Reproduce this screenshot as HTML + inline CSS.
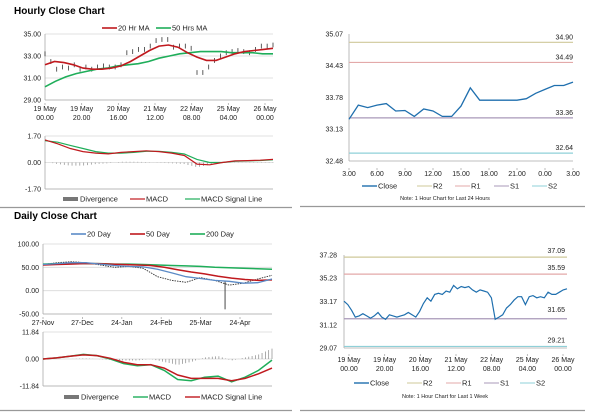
<!DOCTYPE html>
<html><head><meta charset="utf-8"><style>
body{margin:0;background:#fff;width:600px;height:413px;overflow:hidden;font-family:"Liberation Sans",sans-serif}
svg text{font-family:"Liberation Sans",sans-serif}
</style></head><body>
<svg id="s" width="600" height="413" viewBox="0 0 600 413" xmlns="http://www.w3.org/2000/svg">
<text x="14" y="14" font-size="10" font-weight="bold" fill="#000">Hourly Close Chart</text>
<text x="14" y="219" font-size="10" font-weight="bold" fill="#000">Daily Close Chart</text>
<line x1="0" y1="207.5" x2="292" y2="207.5" stroke="#999" stroke-width="1.2"/>
<line x1="300" y1="206.5" x2="585" y2="206.5" stroke="#999" stroke-width="1.2"/>
<line x1="0" y1="410.5" x2="292" y2="410.5" stroke="#999" stroke-width="1.2"/>
<line x1="300" y1="410.5" x2="585" y2="410.5" stroke="#999" stroke-width="1.2"/>
</svg>
<script>
// ===== Data =====
const hPrice=[33.2,32.5,31.8,32.0,31.9,32.2,31.8,32.0,31.8,32.0,32.1,32.0,32.0,32.2,33.3,33.4,33.6,33.6,33.9,34.4,34.5,34.5,33.8,33.9,33.9,33.7,31.5,31.5,32.0,32.6,33.0,33.3,33.4,33.5,33.4,33.3,33.6,33.9,33.9,34.0];
const hMA20=[32.2,32.5,32.4,32.2,31.9,31.8,31.8,31.9,32.1,32.5,33.0,33.5,33.9,34.0,33.8,33.3,32.9,32.6,32.6,32.9,33.2,33.4,33.5,33.6,33.7];
const hMA50=[30.2,30.7,31.1,31.4,31.6,31.8,31.9,32.1,32.2,32.3,32.5,32.8,33.0,33.2,33.3,33.4,33.4,33.4,33.3,33.3,33.3,33.2,33.2];
const hXLabels=[["19 May","00.00"],["19 May","20.00"],["20 May","16.00"],["21 May","12.00"],["22 May","08.00"],["25 May","04.00"],["26 May","00.00"]];
const hYTicks=[35,33,31,29];
const hMacd=[1.45,1.2,0.9,0.7,0.6,0.55,0.65,0.7,0.75,0.7,0.6,0.45,-0.1,-0.15,0.0,0.1,0.12,0.15,0.2];
const hSignal=[1.4,1.3,1.1,0.9,0.7,0.6,0.6,0.65,0.72,0.72,0.65,0.55,0.2,0.0,0.0,0.08,0.1,0.13,0.17];
const rClose=[33.33,33.62,33.57,33.62,33.65,33.50,33.51,33.39,33.54,33.50,33.39,33.39,33.60,33.97,33.72,33.72,33.72,33.72,33.72,33.75,33.86,33.94,34.02,34.02,34.09];
const rXLabels=["3.00","6.00","9.00","12.00","15.00","18.00","21.00","0.00","3.00"];
const rYTicks=[35.07,34.43,33.78,33.13,32.48];
const rLevels=[34.90,34.49,33.36,32.64];
const dPrice=[56,60,62,60,55,50,52,48,30,22,18,28,22,12,16,25,33];
const d20=[56,58,60,60,57,54,52,51,46,38,30,26,22,20,16,17,25];
const d50=[55,56,57,58,58,57,56,55,54,50,45,40,36,31,27,24,22,23];
const d200=[57,58,58,58,58,57,57,56,55,54,53,52,50,49,48,47,46];
const dXLabels=["27-Nov","27-Dec","24-Jan","24-Feb","25-Mar","24-Apr"];
const dYTicks=[100,50,0,-50];
const dMacd=[0,0.5,1.2,2,1.5,0,-2,-3,-2.5,-5,-9,-9.5,-8,-7.5,-10,-8,-5,-0.5];
const dSignal=[0,0.5,1.2,1.8,1.5,0.3,-1.5,-2.5,-2.5,-4,-7,-8.5,-8.5,-8.5,-9.5,-8.5,-6.5,-4];
const wClose=[33.2,32.9,32.4,31.8,31.9,32.1,31.9,31.7,31.9,32.2,31.8,31.6,32.0,31.9,31.8,31.9,32.0,32.2,32.0,31.8,32.3,33.0,33.5,33.2,33.8,33.9,33.8,34.1,34.0,34.6,34.3,34.5,34.4,34.5,34.2,34.0,34.2,34.1,34.0,33.5,31.6,31.8,32.0,32.6,32.9,33.3,33.6,33.6,32.9,33.6,33.7,33.5,33.6,33.5,34.0,33.8,33.8,34.0,34.2,34.3];
const wXLabels=[["19 May","00.00"],["19 May","20.00"],["20 May","16.00"],["21 May","12.00"],["22 May","08.00"],["25 May","04.00"],["26 May","00.00"]];
const wYTicks=[37.28,35.23,33.17,31.12,29.07];
const wLevels=[37.09,35.59,31.65,29.21];
const levelNames=["R2","R1","S1","S2"];
const levelColors=["#cfc89a","#e3a9a9","#a898b8","#8fd0d8"];

// ===== Helpers =====
const S=document.getElementById('s');const NS='http://www.w3.org/2000/svg';
function mk(tag,attrs,parent){const e=document.createElementNS(NS,tag);for(const k in attrs)e.setAttribute(k,attrs[k]);(parent||S).appendChild(e);return e;}
function txt(x,y,t,size,anchor,fill){const e=mk('text',{x:x,y:y,'font-size':size||7,'text-anchor':anchor||'start',fill:fill||'#222'});e.textContent=t;return e;}
function lin(a,b,c,d){return v=>c+(v-a)*(d-c)/(b-a);}
function pathOf(arr,xs,ys){return arr.map((v,i)=>(i?'L':'M')+xs(i).toFixed(1)+' '+ys(v).toFixed(1)).join('');}
function gridY(x0,x1,ticks,ys,fmt,name){ticks.forEach(t=>{const l=mk('line',{x1:x0,x2:x1,y1:ys(t),y2:ys(t),stroke:'#d9d9d9','stroke-width':0.8});


const e=txt(x0-4,ys(t)+2.5,fmt(t),7,'end');

});}
function axisLines(x0,x1,y0,y1,name){const a=mk('line',{x1:x0,x2:x0,y1:y0,y2:y1,stroke:'#aaa','stroke-width':0.8});


const b=mk('line',{x1:x0,x2:x1,y1:y1,y2:y1,stroke:'#aaa','stroke-width':0.8});

}
function series(arr,xs,ys,color,w,name,dash){const p=mk('path',{d:pathOf(arr,xs,ys),fill:'none',stroke:color,'stroke-width':w});if(dash)p.setAttribute('stroke-dasharray',dash);

}
function legendLine(x,y,color,label,name,thick){const l=mk('line',{x1:x,x2:x+15,y1:y,y2:y,stroke:color,'stroke-width':thick||1.6});


const t=txt(x+16,y+2.5,label,7.5,'start','#222');

}
function legendBlock(x,y,label,name){const r=mk('rect',{x:x,y:y-2,width:15,height:4,fill:'#777'});


const t=txt(x+17,y+2.5,label,7.5,'start','#222');

}
function xLabels(labels,x0,x1,y,name){labels.forEach((l,i)=>{const x=x0+i*(x1-x0)/(labels.length-1);const arr=Array.isArray(l)?l:[l];arr.forEach((s,j)=>{const e=txt(x,y+j*9,s,7,'middle');

});
const tk=mk('line',{x1:x,x2:x,y1:y-8,y2:y-6,stroke:'#aaa','stroke-width':0.8});

});}

// ===== Hourly price (top-left) =====
(function(){const x0=45,x1=273,ys=lin(35,29,34,100);
gridY(x0,x1,hYTicks,ys,v=>v.toFixed(2),'hourly-price');axisLines(x0,x1,34,100,'hourly-price');
const xp=i=>x0+i*(x1-x0)/(hPrice.length-1);
hPrice.forEach((v,i)=>{const b=mk('line',{x1:xp(i),x2:xp(i),y1:ys(v+0.22),y2:ys(v-0.22),stroke:'#333','stroke-width':0.8});

});
series(hMA50,i=>x0+i*(x1-x0)/(hMA50.length-1),ys,'#1fae5a',1.6,'hourly-50ma-line');
series(hMA20,i=>x0+i*(x1-x0)/(hMA20.length-1),ys,'#c0191e',1.6,'hourly-20ma-line');
xLabels(hXLabels,45,265,111,'hourly-x');
legendLine(102,28,'#c0191e','20 Hr MA','legend-20hr-ma');legendLine(156,28,'#1fae5a','50 Hrs MA','legend-50hrs-ma');
// MACD
const ym=lin(1.7,-1.7,136,189);gridY(x0,x1,[1.7,0,-1.7],ym,v=>v.toFixed(2),'hourly-macd');axisLines(x0,x1,136,189,'hourly-macd');
const xm=i=>x0+i*(x1-x0)/(hMacd.length-1);
for(let k=0;k<60;k++){const f=k/59*(hMacd.length-1),i=Math.floor(f),j=Math.min(i+1,hMacd.length-1),t=f-i;
const d=(hMacd[i]*(1-t)+hMacd[j]*t)-(hSignal[i]*(1-t)+hSignal[j]*t);const x=x0+k*(x1-x0)/59;
const b=mk('line',{x1:x,x2:x,y1:ym(0),y2:ym(d),stroke:'#999','stroke-width':0.8});

}
series(hSignal,xm,ym,'#1fae5a',1.2,'hourly-macd-signal-line');series(hMacd,xm,ym,'#c0191e',1.2,'hourly-macd-line');
legendBlock(63,199,'Divergence','legend-hourly-divergence');legendLine(130,199,'#c0191e','MACD','legend-hourly-macd',1.2);legendLine(185,199,'#1fae5a','MACD Signal Line','legend-hourly-signal',1.2);
})();

// ===== 24h close (top-right) =====
(function(){const x0=349,x1=573,ys=lin(35.07,32.48,34,161);
rYTicks.forEach(t=>{const e=txt(343,ys(t)+2.5,t.toFixed(2),7,'end');

});
axisLines(x0,x1,34,161,'r24');
rLevels.forEach((v,i)=>{const l=mk('line',{x1:x0,x2:x1,y1:ys(v),y2:ys(v),stroke:levelColors[i],'stroke-width':1.2});


const e=txt(573,ys(v)-3,v.toFixed(2),7,'end');

});
series(rClose,i=>x0+i*(x1-x0)/(rClose.length-1),ys,'#1f6fae',1.3,'r24-close-line');
xLabels(rXLabels,x0,x1,176,'r24-x');
const lx=[362,417,455,494,532],cols=['#1f6fae'].concat(levelColors),nm=['Close'].concat(levelNames);
nm.forEach((n,i)=>legendLine(lx[i],186,cols[i],n,'legend-r24-'+n.toLowerCase(),i?1:1.4));
const e=txt(445,200,'Note: 1 Hour Chart for Last 24 Hours',5.5,'middle');


})();

// ===== Daily (bottom-left) =====
(function(){const x0=43,x1=272,ys=lin(100,-50,244,314);
gridY(x0,x1,dYTicks,ys,v=>v.toFixed(2),'daily-price');axisLines(x0,x1,244,314,'daily-price');
const xf=a=>i=>x0+i*(x1-x0)/(a.length-1);
series(dPrice,xf(dPrice),ys,'#333',0.9,'daily-price-line','1.5,1');
const sx=x0+ (x1-x0)*0.795;const sp=mk('line',{x1:sx,x2:sx,y1:ys(20),y2:ys(-40),stroke:'#333','stroke-width':0.9});


series(d200,xf(d200),ys,'#1fae5a',1.5,'daily-200-day-line');
series(d50,xf(d50),ys,'#c0191e',1.5,'daily-50-day-line');
series(d20,xf(d20),ys,'#5b8ac6',1.3,'daily-20-day-line');
xLabels(dXLabels,43,240,325,'daily-x');
legendLine(71,234,'#5b8ac6','20 Day','legend-20-day');legendLine(130,234,'#c0191e','50 Day','legend-50-day');legendLine(190,234,'#1fae5a','200 Day','legend-200-day');
const ym=lin(11.84,-11.84,332,386);gridY(x0,x1,[11.84,0,-11.84],ym,v=>v.toFixed(2),'daily-macd');axisLines(x0,x1,332,386,'daily-macd');
for(let k=0;k<70;k++){const f=k/69*(dMacd.length-1),i=Math.floor(f),j=Math.min(i+1,dMacd.length-1),t=f-i;
const d=(dMacd[i]*(1-t)+dMacd[j]*t)-(dSignal[i]*(1-t)+dSignal[j]*t);const x=x0+k*(x1-x0)/69;
const b=mk('line',{x1:x,x2:x,y1:ym(0),y2:ym(d*1.3),stroke:'#888','stroke-width':0.7});

}
series(dMacd,xf(dMacd),ym,'#1fae5a',1.5,'daily-macd-line');series(dSignal,xf(dSignal),ym,'#c0191e',1.5,'daily-macd-signal-line');
legendBlock(64,397,'Divergence','legend-daily-divergence');legendLine(133,397,'#1fae5a','MACD','legend-daily-macd',1.4);legendLine(185,397,'#c0191e','MACD Signal Line','legend-daily-signal',1.4);
})();

// ===== Weekly close (bottom-right) =====
(function(){const x0=344,x1=567,ys=lin(37.28,29.07,255,348);
wYTicks.forEach(t=>{const e=txt(337,ys(t)+2.5,t.toFixed(2),7,'end');

});
axisLines(x0,x1,255,348,'w');
wLevels.forEach((v,i)=>{const l=mk('line',{x1:x0,x2:x1,y1:ys(v),y2:ys(v),stroke:levelColors[i],'stroke-width':1.2});


const e=txt(565,ys(v)-(i==2?7:4),v.toFixed(2),7,'end');

});
series(wClose,i=>x0+i*(x1-x0)/(wClose.length-1),ys,'#1f6fae',1.2,'w-close-line');
xLabels(wXLabels,349,563,362,'w-x');
const lx=[354,407,446,484,520],cols=['#1f6fae'].concat(levelColors),nm=['Close'].concat(levelNames);
nm.forEach((n,i)=>legendLine(lx[i],383,cols[i],n,'legend-w-'+n.toLowerCase(),i?1:1.4));
const e=txt(445,398,'Note: 1 Hour Chart for Last 1 Week',5.5,'middle');


})();
</script>
</body></html>
